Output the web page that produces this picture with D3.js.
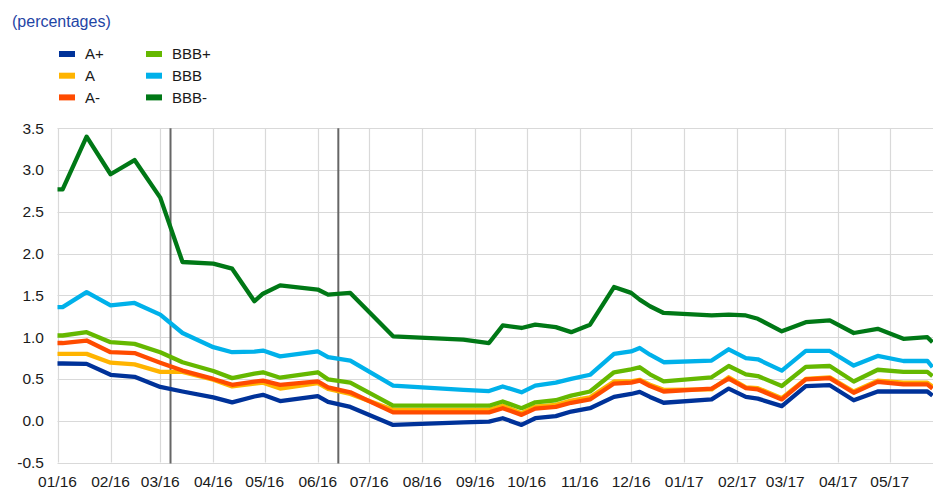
<!DOCTYPE html>
<html lang="en">
<head>
  <meta charset="UTF-8" />
  <title>Spreads by rating</title>
  <script src="https://d3js.org/d3.v7.min.js"></script>
  <style>
    body { margin: 0; background: #fff; }
    svg { display: block; font-family: "Liberation Sans", Arial, sans-serif; }
    .tick-label { font-size: 15.5px; fill: #1a1a1a; }
    .legend-label { font-size: 15px; fill: #1a1a1a; }
  </style>
</head>
<body>
  <div id="chart"></div>

  <script>
    var dates = ['2016-01-01','2016-01-04','2016-01-18','2016-02-01','2016-02-15','2016-03-01','2016-03-14',
      '2016-04-01','2016-04-12','2016-04-25','2016-04-30','2016-05-10','2016-06-01','2016-06-07','2016-06-20',
      '2016-07-15','2016-08-25','2016-09-09','2016-09-17','2016-09-28','2016-10-06','2016-10-18','2016-10-27',
      '2016-11-07','2016-11-21','2016-12-01','2016-12-06','2016-12-12','2016-12-20','2017-01-17','2017-01-27',
      '2017-02-06','2017-02-13','2017-02-27','2017-03-13','2017-03-27','2017-04-10','2017-04-24','2017-05-09',
      '2017-05-23','2017-05-26'];

    var aPlus  = [0.685,0.685,0.68,0.55,0.525,0.405,0.35,0.28,0.22,0.29,0.31,0.235,0.295,0.225,0.165,-0.05,-0.02,-0.01,0.03,-0.05,0.03,0.055,0.11,0.15,0.285,0.32,0.345,0.285,0.215,0.255,0.385,0.285,0.265,0.175,0.415,0.425,0.245,0.35,0.35,0.35,0.30];
    var aMid   = [0.80,0.80,0.80,0.695,0.675,0.585,0.585,0.49,0.41,0.443,0.455,0.385,0.45,0.38,0.32,0.13,0.13,0.13,0.18,0.09,0.17,0.19,0.24,0.28,0.47,0.47,0.49,0.43,0.37,0.375,0.52,0.40,0.39,0.27,0.50,0.52,0.35,0.48,0.455,0.455,0.41];
    var aMinus = [0.93,0.93,0.96,0.82,0.81,0.695,0.60,0.50,0.43,0.467,0.48,0.43,0.47,0.40,0.34,0.10,0.10,0.10,0.15,0.07,0.145,0.165,0.215,0.255,0.445,0.455,0.48,0.415,0.35,0.385,0.505,0.39,0.375,0.255,0.495,0.51,0.335,0.465,0.435,0.435,0.385];
    var bbbPlus  = [1.02,1.02,1.06,0.94,0.92,0.82,0.70,0.595,0.51,0.563,0.58,0.515,0.58,0.495,0.455,0.18,0.18,0.18,0.23,0.15,0.22,0.245,0.30,0.35,0.58,0.615,0.64,0.555,0.47,0.52,0.655,0.555,0.535,0.415,0.645,0.655,0.47,0.61,0.585,0.585,0.535];
    var bbbMid   = [1.36,1.36,1.54,1.38,1.41,1.27,1.05,0.88,0.82,0.827,0.84,0.77,0.83,0.76,0.72,0.42,0.37,0.355,0.41,0.34,0.42,0.455,0.50,0.55,0.80,0.83,0.87,0.79,0.70,0.72,0.855,0.75,0.735,0.60,0.835,0.835,0.66,0.775,0.715,0.715,0.64];
    var bbbMinus = [2.77,2.77,3.40,2.95,3.12,2.67,1.90,1.88,1.82,1.43,1.52,1.62,1.57,1.51,1.53,1.01,0.97,0.93,1.14,1.11,1.15,1.12,1.06,1.15,1.60,1.53,1.45,1.37,1.29,1.26,1.27,1.26,1.22,1.07,1.18,1.20,1.05,1.10,0.98,1.00,0.94];

    var seriesNames  = ['A+', 'A', 'A-', 'BBB+', 'BBB', 'BBB-'];
    var seriesValues = [aPlus, aMid, aMinus, bbbPlus, bbbMid, bbbMinus];
    var seriesColors = ['#003299', '#ffb400', '#ff4b00', '#65b800', '#00b1ea', '#007816'];

    var yTicks = [-0.5, 0, 0.5, 1, 1.5, 2, 2.5, 3, 3.5];
    var eventDates = ['2016-03-07', '2016-06-13'];

    var width = 933, height = 489;
    var parse = d3.timeParse('%Y-%m-%d');

    var xScale = d3.scaleTime()
      .domain([new Date(2016, 0, 1), new Date(2017, 4, 26, 7)])
      .range([57.5, 933]);

    var yScale = d3.scaleLinear()
      .domain([-0.5, 3.5])
      .range([462.5, 128.3]);

    var svg = d3.select('#chart')
      .append('svg')
      .attr('width', width)
      .attr('height', height);

    // title
    svg.append('text')
      .attr('x', 12)
      .attr('y', 26.5)
      .attr('font-size', 16)
      .attr('fill', '#1f45a5')
      .text('(percentages)');

    // legend, two columns of three
    seriesNames.forEach(function (name, i) {
      var col = Math.floor(i / 3), row = i % 3;
      var lx = 59 + col * 87, ly = 54 + row * 21.7;
      svg.append('rect')
        .attr('x', lx).attr('y', ly - 3)
        .attr('width', 16).attr('height', 6)
        .attr('fill', seriesColors[i]);
      svg.append('text')
        .attr('class', 'legend-label')
        .attr('x', lx + 26).attr('y', ly + 5.3)
        .text(name);
    });

    // grid
    var monthTicks = xScale.ticks(d3.timeMonth.every(1));
    svg.append('g').selectAll('line.h')
      .data(yTicks).enter().append('line')
      .attr('x1', 57.5).attr('x2', width)
      .attr('y1', function (d) { return Math.round(yScale(d)) + 0.5; })
      .attr('y2', function (d) { return Math.round(yScale(d)) + 0.5; })
      .attr('stroke', '#d9d9d9').attr('stroke-width', 1.2);

    svg.append('g').selectAll('line.v')
      .data(monthTicks).enter().append('line')
      .attr('x1', function (d) { return Math.round(xScale(d)) + 0.5; })
      .attr('x2', function (d) { return Math.round(xScale(d)) + 0.5; })
      .attr('y1', yScale(3.5)).attr('y2', yScale(-0.5))
      .attr('stroke', '#d9d9d9').attr('stroke-width', 1.2);

    // axis labels
    svg.append('g').selectAll('text')
      .data(yTicks).enter().append('text')
      .attr('class', 'tick-label')
      .attr('x', 44)
      .attr('y', function (d) { return yScale(d) + 5.4; })
      .attr('text-anchor', 'end')
      .text(function (d) { return d.toFixed(1); });

    svg.append('g').selectAll('text')
      .data(monthTicks).enter().append('text')
      .attr('class', 'tick-label')
      .attr('x', function (d) { return xScale(d); })
      .attr('y', 487)
      .attr('text-anchor', 'middle')
      .text(d3.timeFormat('%m/%y'));

    // event markers
    svg.append('g').selectAll('line')
      .data(eventDates).enter().append('line')
      .attr('x1', function (d) { return xScale(parse(d)); })
      .attr('x2', function (d) { return xScale(parse(d)); })
      .attr('y1', yScale(3.5)).attr('y2', yScale(-0.5) + 1)
      .attr('stroke', '#666').attr('stroke-width', 2);

    // series lines
    var line = d3.line()
      .x(function (d) { return xScale(d.date); })
      .y(function (d) { return yScale(d.value); });

    seriesValues.forEach(function (vals, i) {
      var pts = dates.map(function (d, j) { return { date: parse(d), value: vals[j] }; });
      svg.append('path')
        .datum(pts)
        .attr('d', line)
        .attr('fill', 'none')
        .attr('stroke', seriesColors[i])
        .attr('stroke-width', 4.3)
        .attr('stroke-linejoin', 'round');
    });
  </script>
</body>
</html>
